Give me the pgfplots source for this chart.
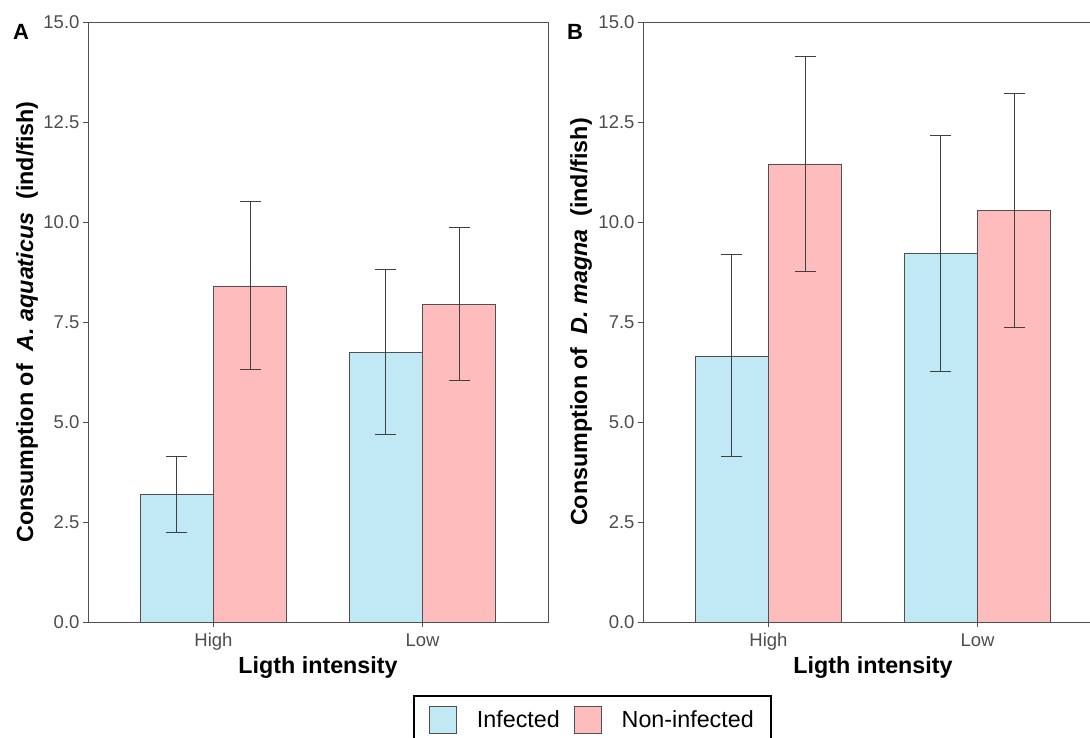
\documentclass[border=0pt]{standalone}
\usepackage{pgfplots}
\pgfplotsset{compat=1.18}
\usepackage{fontspec}
\setmainfont{Liberation Sans}

\definecolor{infc}{HTML}{C0E9F5}
\definecolor{noninfc}{HTML}{FFBCBC}
\definecolor{ticktext}{HTML}{4D4D4D}
\definecolor{frame}{HTML}{505050}
\definecolor{barline}{HTML}{505050}

\pgfplotsset{
  panel/.style={
    scale only axis, width=460pt, height=600pt,
    anchor=south west,
    ybar, bar width=0.35,
    xmin=0.4, xmax=2.6, ymin=0, ymax=15,
    xtick={1,2}, xticklabels={High,Low},
    ytick={0,2.5,5,7.5,10,12.5,15},
    yticklabel style={/pgf/number format/.cd, fixed, fixed zerofill, precision=1},
    /pgf/number format/assume math mode=true,
    tick pos=left, tick align=outside, major tick length=5pt,
    tick style={frame, line width=0.9pt},
    axis line style={frame, line width=0.9pt},
    ticklabel style={font=\fontsize{18.5}{21}\selectfont, text=ticktext},
    xticklabel style={yshift=-3pt},
    label style={font=\fontsize{23.3}{27}\selectfont\bfseries},
    xlabel={Ligth intensity},
    xlabel style={at={(rel axis cs:0.5,-0.0866)}, anchor=base},
    clip=false,
  },
  bars/.style={draw=barline, line width=0.8pt, forget plot,
    error bars/.cd, y dir=both, y explicit,
    error bar style={line width=1pt, draw=black!75},
    error mark options={rotate=90, line width=1pt, draw=black!75, mark size=10.5pt}},
}

\begin{document}
\begin{tikzpicture}
\path[use as bounding box] (0pt,0pt) rectangle (1090pt,738pt);
\clip (0pt,0pt) rectangle (1090pt,738pt);

% Panel A: Asellus aquaticus
\begin{axis}[panel, at={(88pt,116pt)},
  ylabel={Consumption of\ \ \textit{A. aquaticus}\ \ (ind/fish)},
  ylabel style={at={(rel axis cs:-0.1326,0.5)}, anchor=center},
  legend style={at={(rel axis cs:0.7065,-0.1217)}, anchor=north west,
    draw=black, line width=2pt, legend columns=2,
    inner xsep=15pt, inner ysep=10pt,
    font=\fontsize{23.3}{27}\selectfont,
    /tikz/every odd column/.append style={column sep=18pt},
    /tikz/every even column/.append style={column sep=12pt}},
]
\addplot[fill=infc, bar shift=-0.175, bars] coordinates {
  (1,3.18) +- (0,0.95)
  (2,6.74) +- (0,2.06)
};
\addplot[fill=noninfc, bar shift=0.175, bars] coordinates {
  (1,8.40) +- (0,2.10)
  (2,7.94) +- (0,1.91)
};
\addlegendimage{legend image code/.code={\draw[fill=infc, draw=barline, line width=0.9pt] (0pt,-13.5pt) rectangle (27pt,13.5pt);}}
\addlegendentry{Infected}
\addlegendimage{legend image code/.code={\draw[fill=noninfc, draw=barline, line width=0.9pt] (0pt,-13.5pt) rectangle (27pt,13.5pt);}}
\addlegendentry{Non-infected}
\end{axis}

% Panel B: Daphnia magna
\begin{axis}[panel, at={(643pt,116pt)},
  ylabel={Consumption of\ \ \textit{D. magna}\ \ (ind/fish)},
  ylabel style={at={(rel axis cs:-0.1348,0.5)}, anchor=center},
]
\addplot[fill=infc, bar shift=-0.175, bars] coordinates {
  (1,6.65) +- (0,2.525)
  (2,9.21) +- (0,2.96)
};
\addplot[fill=noninfc, bar shift=0.175, bars] coordinates {
  (1,11.45) +- (0,2.68)
  (2,10.28) +- (0,2.93)
};
\end{axis}

\node[anchor=west, inner sep=0pt, font=\fontsize{22}{26}\selectfont\bfseries] at (13pt,706pt) {A};
\node[anchor=west, inner sep=0pt, font=\fontsize{22}{26}\selectfont\bfseries] at (567pt,706pt) {B};
\end{tikzpicture}
\end{document}
